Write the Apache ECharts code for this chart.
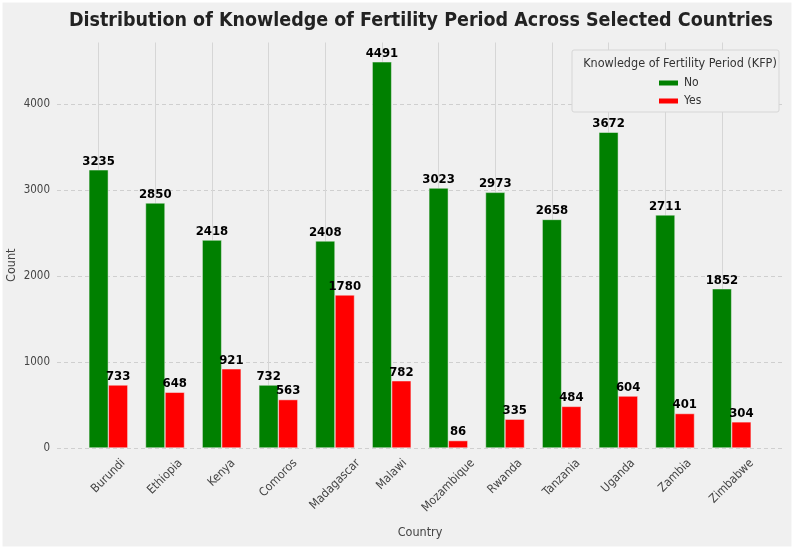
<!DOCTYPE html>
<html>
<head>
<meta charset="utf-8">
<script src="https://cdn.jsdelivr.net/npm/echarts@6.0.0/dist/echarts.min.js"></script>
<style>
  html, body { margin: 0; padding: 0; background: #f0f0f0; }
  #chart { width: 794px; height: 549px; }
</style>
</head>
<body>
<div id="chart"></div>
<script>
// data
var countries = ['Burundi', 'Ethiopia', 'Kenya', 'Comoros', 'Madagascar', 'Malawi',
                 'Mozambique', 'Rwanda', 'Tanzania', 'Uganda', 'Zambia', 'Zimbabwe'];
var noCounts  = [3235, 2850, 2418, 732, 2408, 4491, 3023, 2973, 2658, 3672, 2711, 1852];
var yesCounts = [733, 648, 921, 563, 1780, 782, 86, 335, 484, 604, 401, 304];
var yTicks = [0, 1000, 2000, 3000, 4000];

var FONT = '"DejaVu Sans Condensed", "DejaVu Sans", sans-serif';
var yMax = Math.max.apply(null, noCounts) * 1.05;   // matplotlib-like top margin

// rotated x labels: matplotlib centres the rotated box under the tick,
// so push each label down by half of its rotated height
var LABEL_SIZE = 12, LABEL_MARGIN = 8, LABEL_TOP = 9;
var ctx = document.createElement('canvas').getContext('2d');
ctx.font = LABEL_SIZE + 'px ' + FONT;
var rich = {};
countries.forEach(function (c, i) {
  var w = ctx.measureText(c).width;
  var h = (w + LABEL_SIZE) * Math.SQRT1_2;
  var d = LABEL_TOP - LABEL_MARGIN + h / 2;
  var p = Math.SQRT2 * d;
  rich['c' + i] = { padding: [p, p, 0, 0], fontSize: LABEL_SIZE, color: '#444', fontFamily: FONT };
});

var myChart = echarts.init(document.getElementById('chart'));
var option = {
  backgroundColor: '#f0f0f0',
  animation: false,
  textStyle: { fontFamily: FONT },
  title: [
    {
      text: 'Distribution of Knowledge of Fertility Period Across Selected Countries',
      left: 416, top: 6, textAlign: 'center',
      textStyle: { fontSize: 19.5, fontWeight: 'bold', color: '#222', fontFamily: FONT }
    },
    {
      text: 'Knowledge of Fertility Period (KFP)',
      left: 675, top: 52, textAlign: 'center', z: 30,
      textStyle: { fontSize: 12.5, fontWeight: 'normal', color: '#333', fontFamily: FONT }
    }
  ],
  graphic: [
    {
      type: 'rect', z: 5,
      shape: { x: 572, y: 50, width: 207, height: 62, r: 2 },
      style: { fill: '#f0f0f0', stroke: '#d6d6d6', lineWidth: 1 }
    },
    {
      type: 'rect', z: 100, silent: true,
      shape: { x: 1, y: 1, width: 792, height: 547 },
      style: { fill: 'none', stroke: '#ffffff', lineWidth: 3 }
    }
  ],
  legend: {
    data: ['No', 'Yes'],
    orient: 'vertical',
    left: 652, top: 72,
    z: 30,
    icon: 'rect',
    itemWidth: 21, itemHeight: 7, itemGap: 6,
    textStyle: { fontSize: 12, color: '#333', fontFamily: FONT }
  },
  grid: [
    { left: 80, right: 34, top: 42.5, bottom: 101, outerBoundsMode: 'none' },
    { left: 57, right: 11, top: 42.5, bottom: 101, outerBoundsMode: 'none' }
  ],
  xAxis: [
    {
      type: 'category', gridIndex: 0, data: countries,
      name: 'Country', nameLocation: 'middle', nameGap: 78, nameMoveOverlap: false,
      nameTextStyle: { fontSize: 12.5, color: '#444', fontFamily: FONT },
      axisLine: { show: false }, axisTick: { show: false }, splitLine: { show: false },
      axisLabel: {
        interval: 0, rotate: 45, margin: LABEL_MARGIN, hideOverlap: false,
        align: 'center', verticalAlign: 'middle',
        formatter: function (v, i) { return '{c' + i + '|' + v + '}'; },
        rich: rich
      }
    },
    {
      type: 'category', gridIndex: 1, data: countries, show: false
    }
  ],
  yAxis: [
    {
      type: 'value', gridIndex: 0, min: 0, max: yMax, show: false,
      splitLine: { show: false }
    },
    {
      type: 'value', gridIndex: 1, min: 0, max: yMax, interval: 1000,
      name: 'Count', nameLocation: 'middle', nameGap: 39, nameMoveOverlap: false,
      nameTextStyle: { fontSize: 12.5, color: '#444', fontFamily: FONT, padding: [0, 40, 0, 0] },
      axisLine: { show: false }, axisTick: { show: false },
      axisLabel: {
        margin: 7, fontSize: 11.5, color: '#444', fontFamily: FONT, showMaxLabel: false,
        formatter: function (v) { return yTicks.indexOf(v) >= 0 ? String(v) : ''; }
      },
      splitLine: {
        show: true, showMaxLine: false,
        lineStyle: { color: '#cfcfcf', type: [4, 3], width: 1 }
      }
    }
  ],
  series: [
    {
      name: 'No', type: 'bar', xAxisIndex: 0, yAxisIndex: 0,
      data: noCounts, barWidth: 19.5, barGap: '0%',
      itemStyle: { color: '#008000', borderColor: '#f0f0f0', borderWidth: 0.5 },
      label: {
        show: true, position: 'top', distance: 2,
        fontSize: 13, fontWeight: 'bold', color: '#000', fontFamily: FONT
      },
      markLine: {
        silent: true, symbol: 'none', z: 1, animation: false,
        label: { show: false },
        lineStyle: { color: '#d6d6d6', type: 'solid', width: 1 },
        data: countries.map(function (c) { return { xAxis: c }; })
      }
    },
    {
      name: 'Yes', type: 'bar', xAxisIndex: 0, yAxisIndex: 0,
      data: yesCounts, barWidth: 19.5, barGap: '0%',
      itemStyle: { color: '#ff0000', borderColor: '#f0f0f0', borderWidth: 0.5 },
      label: {
        show: true, position: 'top', distance: 2,
        fontSize: 13, fontWeight: 'bold', color: '#000', fontFamily: FONT
      }
    }
  ]
};
myChart.setOption(option);
</script>
</body>
</html>
